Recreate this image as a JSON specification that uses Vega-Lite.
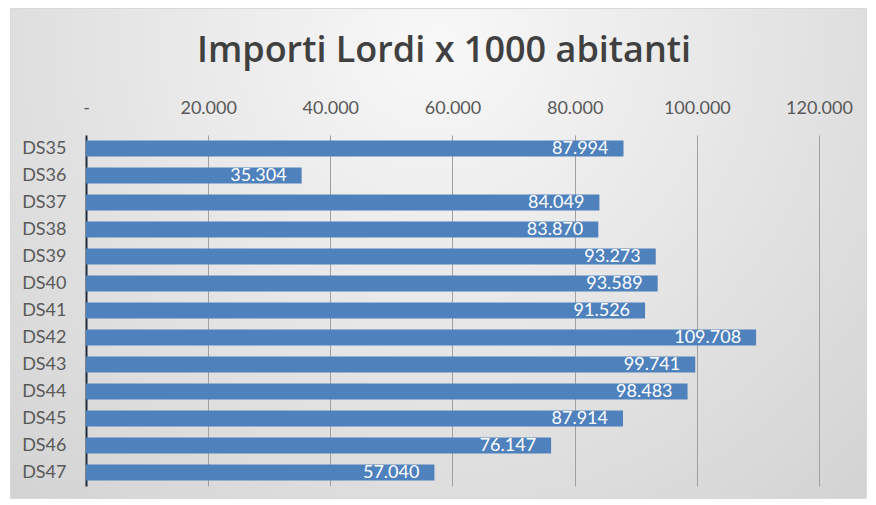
{
  "$schema": "https://vega.github.io/schema/vega-lite/v6.json",
  "autosize": "none",
  "width": 856,
  "height": 490,
  "padding": {"left": 10, "top": 8, "right": 10, "bottom": 7},
  "background": "#ffffff",
  "title": {
    "text": "Importi Lordi x 1000 abitanti",
    "anchor": "middle",
    "frame": "group",
    "baseline": "alphabetic",
    "offset": 0,
    "dy": 90,
    "dx": 6,
    "font": "Open Sans",
    "fontSize": 36,
    "fontWeight": 600,
    "color": "#404040"
  },
  "data": {
    "values": [
      {"ds": "DS35", "value": 87994},
      {"ds": "DS36", "value": 35304},
      {"ds": "DS37", "value": 84049},
      {"ds": "DS38", "value": 83870},
      {"ds": "DS39", "value": 93273},
      {"ds": "DS40", "value": 93589},
      {"ds": "DS41", "value": 91526},
      {"ds": "DS42", "value": 109708},
      {"ds": "DS43", "value": 99741},
      {"ds": "DS44", "value": 98483},
      {"ds": "DS45", "value": 87914},
      {"ds": "DS46", "value": 76147},
      {"ds": "DS47", "value": 57040}
    ]
  },
  "encoding": {
    "y": {
      "field": "ds",
      "type": "nominal",
      "sort": null,
      "title": null,
      "scale": {"range": [127, 478], "paddingInner": 0.4, "paddingOuter": 0.2},
      "axis": {
        "orient": "left",
        "offset": -76,
        "ticks": false,
        "grid": false,
        "domain": true,
        "domainColor": "#1f2a3a",
        "domainWidth": 2,
        "labelPadding": 20,
        "labelFont": "Lato",
        "labelFontSize": 18,
        "labelColor": "#595959"
      }
    }
  },
  "layer": [
    {
      "mark": {"type": "bar", "color": "#4F81BD"},
      "encoding": {
        "x": {
          "field": "value",
          "type": "quantitative",
          "title": null,
          "scale": {"domain": [-12442, 127696], "nice": false, "zero": false},
          "axis": {
            "orient": "top",
            "offset": -127,
            "values": [0, 20000, 40000, 60000, 80000, 100000, 120000],
            "labelExpr": "datum.value == 0 ? '-' : format(datum.value, ',.0f')",
            "ticks": false,
            "domain": false,
            "grid": true,
            "gridColor": "#a0a0a0",
            "gridWidth": 1,
            "labelPadding": 18,
            "labelFont": "Lato",
            "labelFontSize": 18,
            "labelColor": "#595959"
          }
        },
        "x2": {"datum": 0}
      }
    },
    {
      "mark": {
        "type": "text",
        "align": "right",
        "baseline": "middle",
        "dx": -15,
        "font": "Lato",
        "fontSize": 18,
        "color": "#ffffff"
      },
      "encoding": {
        "x": {"field": "value", "type": "quantitative"},
        "text": {"field": "value", "type": "quantitative", "format": ",.0f"}
      }
    }
  ],
  "config": {
    "locale": {
      "number": {"decimal": ",", "thousands": ".", "grouping": [3], "currency": ["€", ""]}
    },
    "view": {
      "stroke": "#d9d9d9",
      "fill": {
        "gradient": "radial",
        "x1": 0.5, "y1": 0.25, "r1": 0,
        "x2": 0.5, "y2": 0.25, "r2": 0.75,
        "stops": [
          {"offset": 0, "color": "#f8f8f8"},
          {"offset": 1, "color": "#d2d2d2"}
        ]
      }
    }
  }
}
